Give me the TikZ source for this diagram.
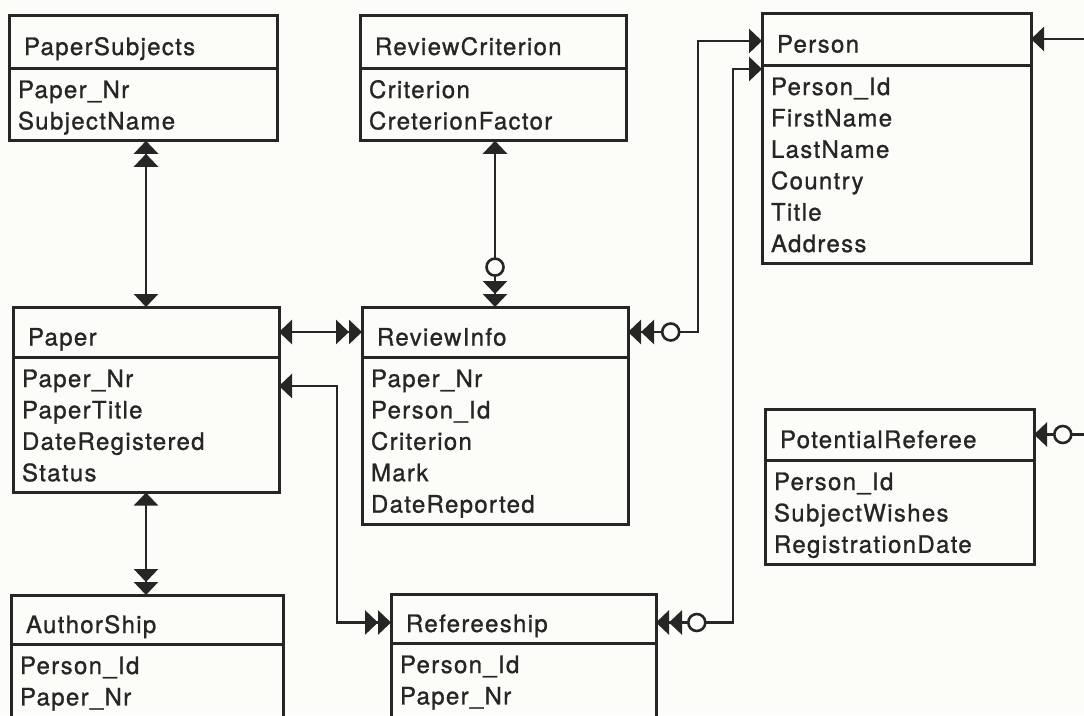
\documentclass[tikz,border=0pt]{standalone}
\usepackage{fontspec}
\setmainfont{TeX Gyre Heros}[LetterSpace=5.5,FakeBold=1]
\usetikzlibrary{arrows.meta,calc}

\definecolor{ink}{HTML}{262626}
\definecolor{sheet}{HTML}{FCFCF8}

% row strut: 25pt above the baseline, 6.4pt below (31.4pt per attribute line)
\newcommand\rowstrut{\rule[-6.4pt]{0pt}{31.4pt}}

% \entity{name}{x}{y}{width}{header height}{title}{attribute rows}
\newcommand\entity[7]{%
  \pgfmathsetlengthmacro\entHW{#4-30}%
  \pgfmathsetlengthmacro\entBW{#4-18}%
  \node[hd, minimum height=#5, text width=\entHW] (#1-h) at (#2,#3) {#6};
  \node[bd, text width=\entBW] (#1) at (#1-h.south west) {\rowstrut#7\rowstrut};
}

\tikzset{
  hd/.style={draw=ink, line width=3pt, anchor=north west, outer sep=0pt,
    inner xsep=15pt, inner ysep=0pt, align=left, text height=27pt, text depth=0pt,
    font=\fontsize{24pt}{31.4pt}\selectfont, text=ink},
  bd/.style={draw=ink, line width=3pt, anchor=north west, outer sep=0pt,
    inner xsep=9pt, inner ysep=5pt, align=left,
    font=\fontsize{24pt}{31.4pt}\selectfont, text=ink},
  conn/.style={draw=ink, line width=2.8pt},
  ring/.style={circle, draw=ink, fill=sheet, minimum size=17pt, inner sep=0pt, line width=2.6pt},
  one/.tip={Triangle[length=13pt,width=24pt,sep=0pt]},
  many/.tip={Triangle[length=13pt,width=24pt,sep=0pt]Triangle[length=13pt,width=24pt,sep=0pt]},
}

\begin{document}
\begin{tikzpicture}[x=1pt,y=-1pt]
\fill[sheet] (0,0) rectangle (1084,715);
\useasboundingbox (0,0) rectangle (1084,715);
\clip (0,0) rectangle (1084,715);

% entities
\entity{PS}{9}{15}{268}{53}{PaperSubjects}{Paper\_Nr\\SubjectName}
\entity{RC}{360}{15}{266}{53}{ReviewCriterion}{Criterion\\CreterionFactor}
\entity{P}{762}{13}{269}{52}{Person}{Person\_Id\\FirstName\\LastName\\Country\\Title\\Address}
\entity{Pa}{13}{307}{266}{50}{Paper}{Paper\_Nr\\PaperTitle\\DateRegistered\\Status}
\entity{RI}{362}{307}{266}{50}{ReviewInfo}{Paper\_Nr\\Person\_Id\\Criterion\\Mark\\DateReported}
\entity{PR}{765}{409}{269}{51}{PotentialReferee}{Person\_Id\\SubjectWishes\\RegistrationDate}
\entity{AS}{11}{595}{272}{49}{AuthorShip}{Person\_Id\\Paper\_Nr\\}
\entity{RS}{391}{594}{265}{49}{Refereeship}{Person\_Id\\Paper\_Nr\\}

% relationships
\draw[conn, {many}-{one}] (PS.south -| Pa-h.north) -- (Pa-h.north);
\draw[conn, {one}-{many}] (Pa.south) -- (Pa.south |- AS-h.north);
\draw[conn, {one}-{many}] (RC.south -| RI-h.north) -- node[ring, pos=0.76]{} (RI-h.north);
\draw[conn, {one}-{many}] (Pa-h.east) -- (RI-h.west);
\draw[conn, {many}-{one}] (RI-h.east) -- node[ring, pos=0.61]{} ++(70,0) |- ($(P-h.west)+(0,2)$);
\draw[conn, {many}-{one}] ($(RS-h.east)+(0,4)$) -- node[ring, pos=0.53]{} ++(77,0) |- ($(P.north west)+(0,4)$);
\draw[conn, {one}-{many}] ($(Pa.north east)+(0,29)$) -- ++(58,0) |- ($(RS-h.west)+(0,4)$);

% links leaving the sheet on the right
\coordinate (pOut) at ([xshift=60pt]P-h.east);
\draw[conn, -{one}] (pOut) -- (P-h.east);
\coordinate (prOut) at ([xshift=60pt]PR-h.east);
\draw[conn, {one}-] (PR-h.east) -- node[ring, pos=0.48]{} (prOut);
\end{tikzpicture}
\end{document}
